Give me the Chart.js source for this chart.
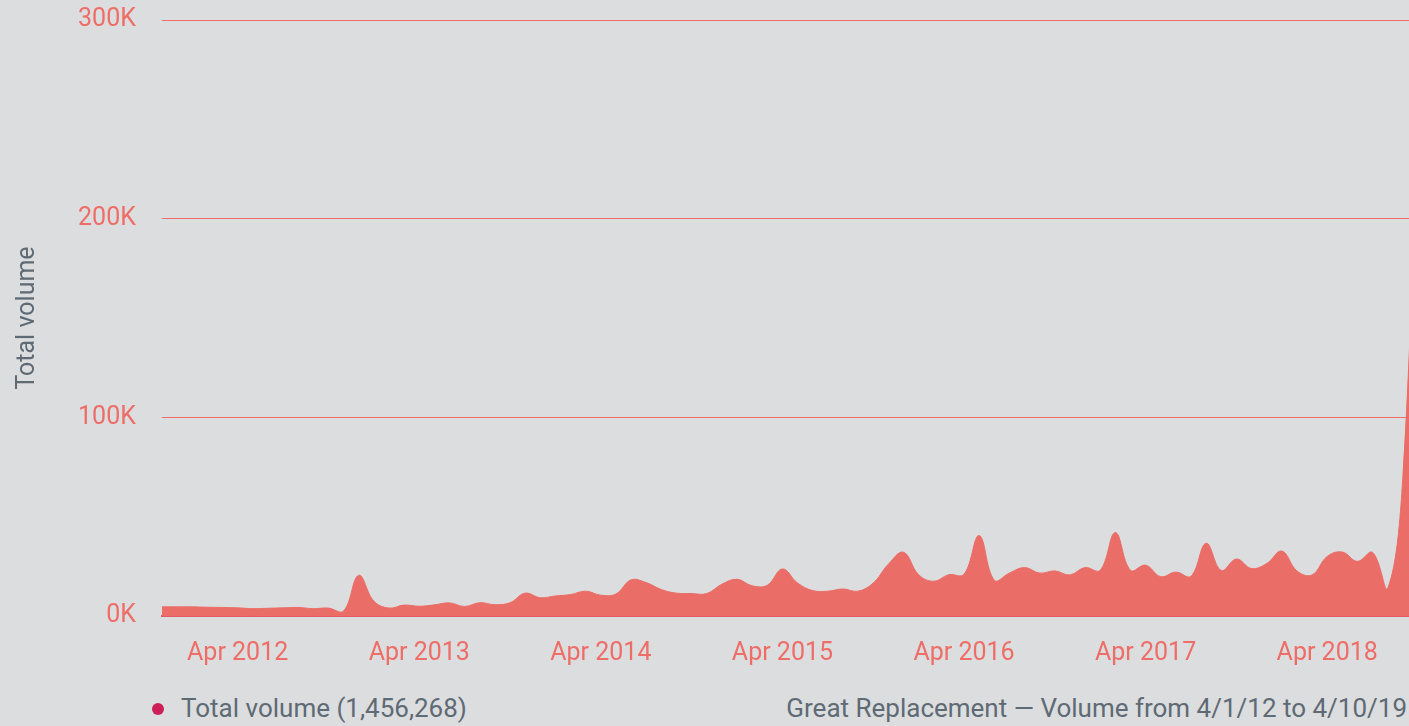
<!DOCTYPE html>
<html>
<head>
<meta charset="utf-8">
<script src="https://cdn.jsdelivr.net/npm/chart.js@4/dist/chart.umd.min.js"></script>
<style>
  html, body { margin: 0; padding: 0; background: #dcdddf; overflow: hidden; width: 1409px; height: 726px; }
  #wrap { position: absolute; left: 0; top: 0; width: 1418px; height: 666px; }
  .foot { position: absolute; top: 692px; font-family: Roboto, sans-serif; font-weight: 400; font-size: 26px; line-height: 32px; color: #5e6a74; white-space: nowrap; }
  #legend { left: 152px; }
  #legend .dot { display: inline-block; width: 12px; height: 12px; border-radius: 50%; background: #cc1f57; margin-right: 17px; vertical-align: 2px; }
  #caption { right: 2px; }
</style>
</head>
<body>
<div id="wrap"><canvas id="chart"></canvas></div>
<div class="foot" id="legend"><span class="dot"></span>Total volume (1,456,268)</div>
<div class="foot" id="caption">Great Replacement — Volume from 4/1/12 to 4/10/19</div>
<script>
// monthly buckets, Nov 2011 .. Oct 2018 (visible window of the chart)
const months = ['Jan','Feb','Mar','Apr','May','Jun','Jul','Aug','Sep','Oct','Nov','Dec'];
const labels = [];
for (let y = 2011; y <= 2018; y++) {
  for (let m = 0; m < 12; m++) {
    if (y === 2011 && m < 10) continue;
    if (y === 2018 && m > 9) continue;
    labels.push(months[m] + ' ' + y);
  }
}

// total volume per month, in thousands
const volume = [
  4.6, 4.6,                                                   // Nov-Dec 2011
  4.6, 4.4, 4.3, 4.1, 3.7, 3.9, 4.1, 4.3, 3.7, 4.0, 2.5, 20.5, // 2012
  7.5, 4.0, 5.5, 4.9, 5.6, 6.6, 4.8, 6.7, 5.7, 6.7, 11.5, 9.2, // 2013
  10.1, 10.8, 12.5, 10.5, 11.1, 18.2, 16.8, 13.3, 11.5, 11.3, 11.3, 16.0, // 2014
  18.5, 15.2, 15.5, 23.7, 16.6, 12.8, 12.5, 13.6, 12.5, 16.6, 26.1, 32.1, // 2015
  20.8, 17.5, 20.8, 21.0, 40.5, 18.0, 21.6, 24.4, 21.6, 22.7, 20.7, 24.4, // 2016
  23.0, 42.0, 23.0, 25.6, 19.8, 22.1, 20.0, 36.6, 22.9, 28.7, 23.9, 26.4, // 2017
  32.7, 22.7, 20.7, 30.0, 32.2, 27.5, 32.0, 14.0, 70.0, 260.0  // Jan-Oct 2018
];

const yTicks = [0, 100, 200, 300];

const salmon = '#ee6d67';

new Chart(document.getElementById('chart'), {
  type: 'line',
  data: {
    labels: labels,
    datasets: [{
      label: 'Total volume',
      data: volume,
      fill: 'origin',
      backgroundColor: '#ea6d67',
      borderColor: '#ea6d67',
      borderWidth: 1,
      tension: 0.4,
      pointRadius: 0
    }]
  },
  options: {
    responsive: true,
    maintainAspectRatio: false,
    animation: false,
    layout: { padding: 0 },
    plugins: { legend: { display: false }, tooltip: { enabled: false } },
    scales: {
      x: {
        grid: { display: false, drawTicks: false },
        border: { display: true, color: '#e45a68', width: 2 },
        ticks: {
          autoSkip: false,
          maxRotation: 0,
          padding: 23,
          color: salmon,
          font: { family: 'Roboto', size: 25, weight: 400 },
          callback: (v, i) => labels[i].startsWith('Apr') ? labels[i] : null
        },
        afterFit: (s) => { s.height = 50; }
      },
      y: {
        min: 0,
        max: 300,
        afterBuildTicks: (s) => { s.ticks = yTicks.map(v => ({ value: v })); },
        grid: { drawTicks: false, color: '#ef6c67', lineWidth: 1 },
        border: { display: false },
        ticks: {
          padding: 7.5,
          color: salmon,
          font: { family: 'Roboto', size: 25, weight: 400, lineHeight: 1 },
          // trailing spaces keep the labels clear of the plot edge
          callback: (v) => v + 'K   '
        },
        title: {
          display: true,
          text: 'Total volume',
          color: '#5e6a74',
          font: { family: 'Roboto', size: 25, weight: 400 },
          padding: { top: 13, bottom: 0 }
        },
        afterFit: (s) => { s.width = 162; }
      }
    }
  }
});
</script>
</body>
</html>
